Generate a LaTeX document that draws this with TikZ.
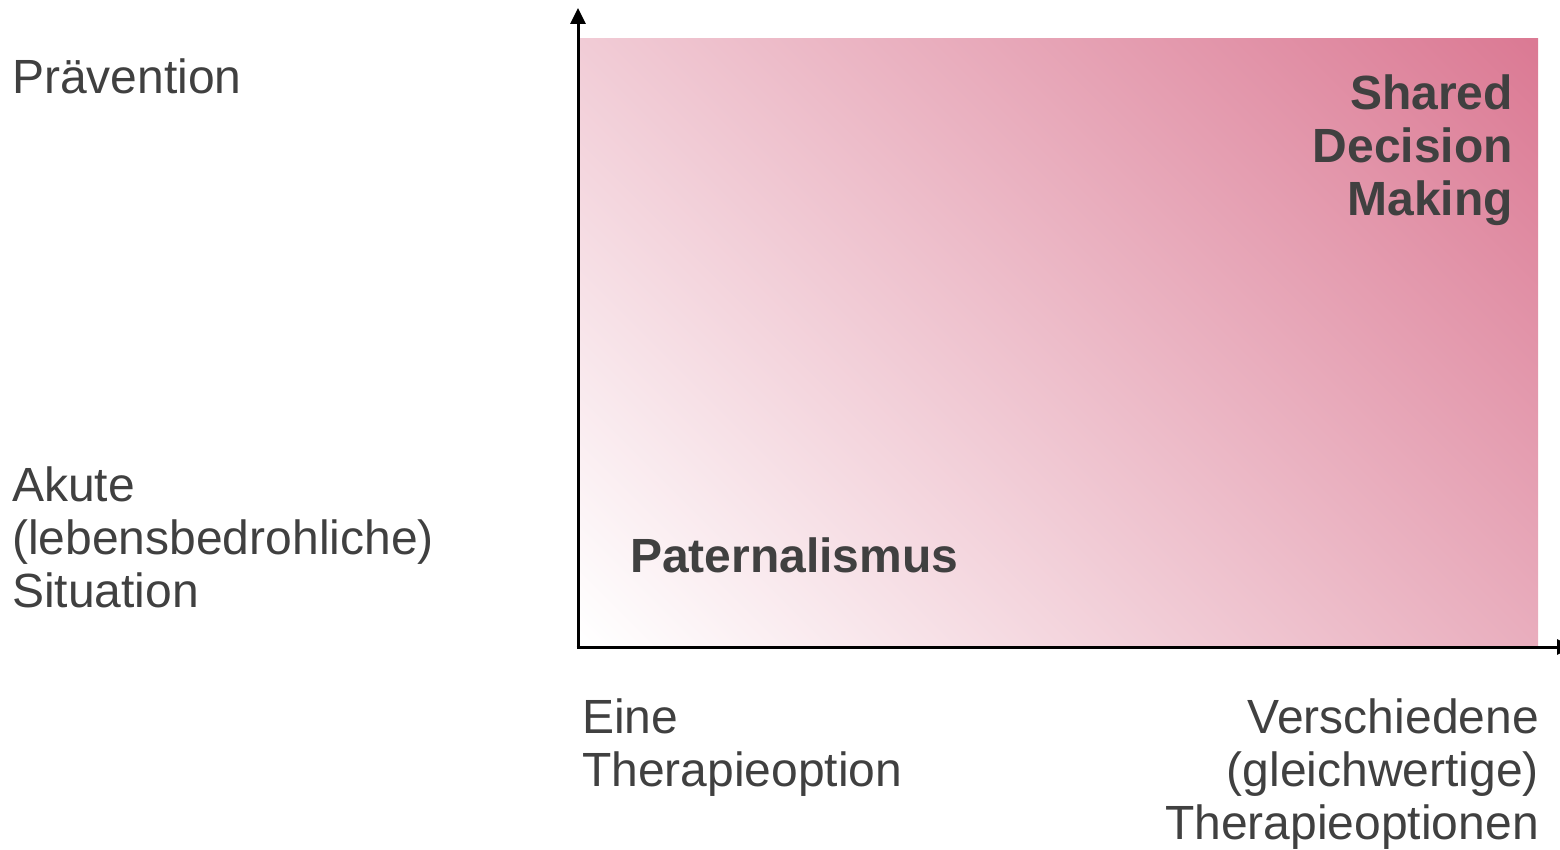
\documentclass[tikz,border=0pt]{standalone}
\usepackage{fontspec}
\setmainfont{Liberation Sans}
\usetikzlibrary{arrows.meta}
\definecolor{txtgray}{HTML}{404040}
\definecolor{pinkend}{RGB}{219,122,148}
\tikzset{
  lbl/.style={inner sep=0pt, text=txtgray, font=\fontsize{48}{53}\selectfont},
  blbl/.style={lbl, font=\fontsize{48}{53}\selectfont\bfseries},
  axis/.style={line width=3pt, -{Triangle[width=15pt,length=16pt]}}
}
\begin{document}
\begin{tikzpicture}[x=1pt,y=1pt]
\useasboundingbox (0,0) rectangle (1560,849);
\begin{scope}
  \clip (580,204) rectangle (1538,810);
  \shade[left color=white, right color=pinkend, shading angle=135] (509,-43) rectangle (1609,1057);
\end{scope}
\coordinate (O) at (578,202);
\coordinate (ytip) at (578,841);
\coordinate (xtip) at (1573,202);
\draw[axis] ([yshift=-1.5pt]O) -- (ytip);
\draw[axis] ([xshift=-1.5pt]O) -- (xtip);
\node[lbl, anchor=base west] (prev) at (12,755) {Prävention};
\node[lbl, anchor=base west, align=left] (akute) at (12,241) {Akute\\(lebensbedrohliche)\\Situation};
\node[lbl, anchor=base west, align=left] (eine) at (582,63) {Eine\\Therapieoption};
\node[lbl, anchor=base east, align=right] (versch) at (1539,10) {Verschiedene\\(gleichwertige)\\Therapieoptionen};
\node[blbl, anchor=base west] (pat) at (630,276) {Paternalismus};
\node[blbl, anchor=base east, align=right] (sdm) at (1513,633) {Shared\\Decision\\Making};
\end{tikzpicture}
\end{document}
